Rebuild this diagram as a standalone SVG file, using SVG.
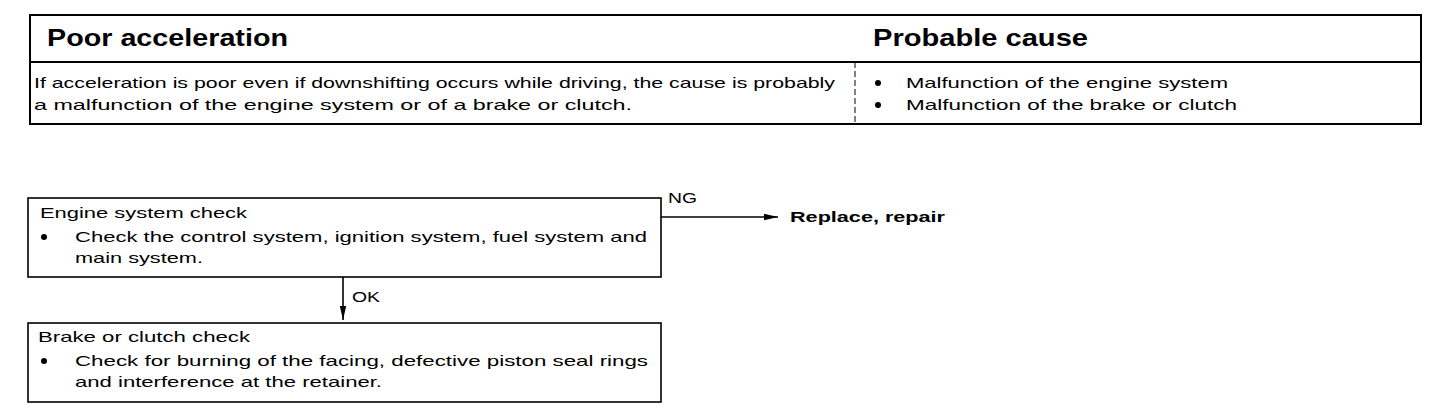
<svg xmlns="http://www.w3.org/2000/svg" width="1456" height="412" viewBox="0 0 1456 412">
<style>
.t{font-family:"Liberation Sans",Arial,sans-serif;font-size:15px;fill:#000}
.h{font-family:"Liberation Sans",Arial,sans-serif;font-size:24px;font-weight:bold;fill:#000}
.b{font-family:"Liberation Sans",Arial,sans-serif;font-size:15px;font-weight:bold;fill:#000}
.box{fill:#fff;stroke:#000;stroke-width:1.6}
.ln{fill:none;stroke:#000;stroke-width:1.6}
</style>
<defs>
<marker id="arr" markerWidth="14" markerHeight="8" refX="14" refY="4" orient="auto" markerUnits="userSpaceOnUse">
<path d="M0,0.8 L14,4 L0,7.2 Z" fill="#000"/>
</marker>
</defs>
<rect width="1456" height="412" fill="#fff"/>
<g id="table">
<rect x="30" y="15" width="1391" height="109" fill="none" stroke="#000" stroke-width="2"/>
<line x1="30" y1="62" x2="1421" y2="62" stroke="#000" stroke-width="1.8"/>
<line x1="855" y1="62" x2="855" y2="124" stroke="#000" stroke-width="1" stroke-dasharray="6,3"/>
<text class="h" x="47" y="46" textLength="241" lengthAdjust="spacingAndGlyphs">Poor acceleration</text>
<text class="h" x="873" y="46" textLength="215" lengthAdjust="spacingAndGlyphs">Probable cause</text>
<text class="t" x="34" y="88" textLength="801" lengthAdjust="spacingAndGlyphs">If acceleration is poor even if downshifting occurs while driving, the cause is probably</text>
<text class="t" x="34" y="110" textLength="598" lengthAdjust="spacingAndGlyphs">a malfunction of the engine system or of a brake or clutch.</text>
<circle cx="878" cy="83" r="3"/>
<circle cx="878" cy="105" r="3"/>
<text class="t" x="906" y="88" textLength="322" lengthAdjust="spacingAndGlyphs">Malfunction of the engine system</text>
<text class="t" x="906" y="110" textLength="331" lengthAdjust="spacingAndGlyphs">Malfunction of the brake or clutch</text>
</g>
<g id="engine-check">
<rect class="box" x="28" y="198" width="633" height="79"/>
<text class="t" x="40" y="218" textLength="207" lengthAdjust="spacingAndGlyphs">Engine system check</text>
<circle cx="44" cy="237" r="3"/>
<text class="t" x="75" y="242" textLength="572" lengthAdjust="spacingAndGlyphs">Check the control system, ignition system, fuel system and</text>
<text class="t" x="75" y="263" textLength="128" lengthAdjust="spacingAndGlyphs">main system.</text>
</g>
<g id="brake-check">
<rect class="box" x="28" y="323" width="633" height="79"/>
<text class="t" x="38" y="342" textLength="212" lengthAdjust="spacingAndGlyphs">Brake or clutch check</text>
<circle cx="44" cy="361" r="3"/>
<text class="t" x="75" y="366" textLength="573" lengthAdjust="spacingAndGlyphs">Check for burning of the facing, defective piston seal rings</text>
<text class="t" x="75" y="387" textLength="307" lengthAdjust="spacingAndGlyphs">and interference at the retainer.</text>
</g>
<g id="replace">
<text class="b" x="790" y="222" textLength="155" lengthAdjust="spacingAndGlyphs">Replace, repair</text>
</g>
<g id="connectors">
<line class="ln" x1="661" y1="217" x2="778" y2="217" marker-end="url(#arr)"/>
<text class="t" x="668" y="203" textLength="29" lengthAdjust="spacingAndGlyphs">NG</text>
<line class="ln" x1="343" y1="277" x2="343" y2="320" marker-end="url(#arr)"/>
<text class="t" x="352" y="302" textLength="28" lengthAdjust="spacingAndGlyphs">OK</text>
</g>
</svg>
